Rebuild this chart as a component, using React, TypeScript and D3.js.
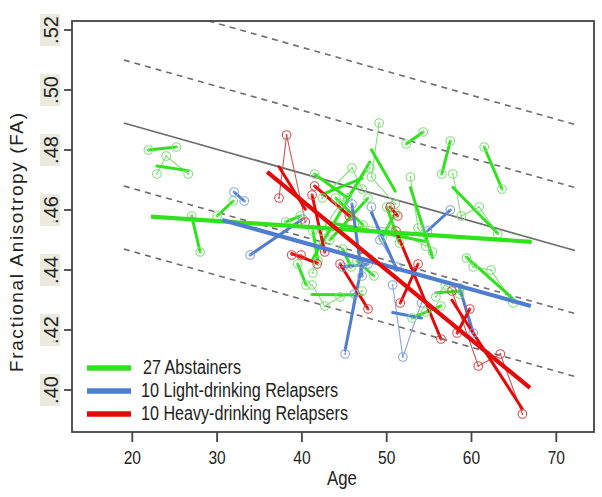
import React from 'react';
import * as d3 from 'd3';

type Obs = [number, number]; // [age, FA]

// individual subjects: repeated scans per subject
const abstainers: Obs[][] = [
  [[21.9, 0.480], [25.2, 0.481]],
  [[22.9, 0.472], [24.0, 0.478], [26.6, 0.472]],
  [[27.0, 0.458], [28.0, 0.446]],
  [[30.0, 0.458], [31.9, 0.463]],
  [[41.3, 0.439], [42.4, 0.453], [44.5, 0.462], [48.0, 0.474]],
  [[49.1, 0.489], [48.2, 0.471], [51.0, 0.462]],
  [[52.3, 0.482], [54.3, 0.486]],
  [[57.5, 0.483], [56.5, 0.472]],
  [[57.8, 0.472], [58.8, 0.458], [60.9, 0.461], [63.1, 0.452]],
  [[61.5, 0.481], [63.6, 0.467]],
  [[59.4, 0.444], [60.2, 0.441], [62.3, 0.440], [64.9, 0.429]],
  [[41.5, 0.472], [45.4, 0.464]],
  [[43.3, 0.450], [47.8, 0.464]],
  [[43.3, 0.455], [50.6, 0.454], [54.6, 0.448]],
  [[41.2, 0.435], [42.7, 0.428], [44.5, 0.431], [47.1, 0.433]],
  [[53.0, 0.424], [54.6, 0.426], [56.4, 0.428]],
  [[55.8, 0.431], [56.9, 0.435], [58.6, 0.432]],
  [[42.4, 0.464], [45.9, 0.474], [47.1, 0.467]],
  [[52.8, 0.471], [53.7, 0.454], [55.4, 0.446]],
  [[50.0, 0.461], [51.5, 0.449]],
  [[38.1, 0.456], [39.8, 0.458]],
  [[41.3, 0.453], [41.9, 0.443]],
  [[44.0, 0.464], [47.2, 0.455]],
  [[46.5, 0.443], [48.5, 0.438]],
  [[39.5, 0.442], [40.5, 0.435]],
  [[49.5, 0.451], [51.0, 0.459]],
  [[44.8, 0.447], [45.8, 0.441]],
];

const lightRelapsers: Obs[][] = [
  [[32.0, 0.466], [33.2, 0.463]],
  [[33.9, 0.445], [40.1, 0.457]],
  [[45.9, 0.462], [47.1, 0.438]],
  [[50.7, 0.435], [51.9, 0.411], [54.1, 0.429]],
  [[48.2, 0.461], [49.2, 0.450], [51.2, 0.441]],
  [[44.8, 0.441], [47.8, 0.442]],
  [[54.8, 0.453], [57.5, 0.460]],
  [[58.6, 0.434], [60.2, 0.419]],
  [[45.1, 0.412], [46.2, 0.432], [47.2, 0.442]],
];

const heavyRelapsers: Obs[][] = [
  [[37.3, 0.464], [38.2, 0.485], [40.4, 0.456]],
  [[41.5, 0.468], [45.6, 0.458]],
  [[41.2, 0.465], [42.7, 0.446]],
  [[38.8, 0.445], [39.9, 0.445], [41.8, 0.442]],
  [[50.4, 0.461], [51.3, 0.458]],
  [[44.5, 0.442], [47.8, 0.427]],
  [[51.1, 0.453], [56.4, 0.417]],
  [[57.7, 0.433], [60.8, 0.408], [63.4, 0.412], [66.0, 0.392]],
  [[59.8, 0.427], [58.3, 0.419]],
  [[51.6, 0.429], [53.7, 0.442]],
];

// group regression lines [start, end]
const abstainerFit: Obs[] = [[22.2, 0.4578], [67.1, 0.4494]];
const lightFit: Obs[] = [[30.6, 0.4567], [67.0, 0.428]];
const heavyFit: Obs[] = [[35.9, 0.4727], [66.9, 0.4007]];

// normative age line and its bands
const normLine: Obs[] = [[19, 0.489], [72.2, 0.4465]];
const bandOffsets = [0.042, 0.021, -0.021, -0.042];

const xTicks = [20, 30, 40, 50, 60, 70];
const yTicks = [0.40, 0.42, 0.44, 0.46, 0.48, 0.50, 0.52];

const legendItems = [
  { label: '27 Abstainers', key: 'abst', width: 98 },
  { label: '10 Light-drinking Relapsers', key: 'light', width: 197 },
  { label: '10 Heavy-drinking Relapsers', key: 'heavy', width: 207 },
];

const colors: Record<string, { thick: string; thin: string }> = {
  abst: { thick: '#2ee31c', thin: '#84df7c' },
  light: { thick: '#4f7ed0', thin: '#88a4dc' },
  heavy: { thick: '#e20a0a', thin: '#d45050' },
};

const W = 602;
const H = 497;
const plot = { left: 72, top: 21, right: 594, bottom: 432 };
const font = "'Liberation Sans', Arial, sans-serif";

function ols(pts: Obs[]): Obs[] {
  const mx = d3.mean(pts, p => p[0]) as number;
  const my = d3.mean(pts, p => p[1]) as number;
  const sxy = d3.sum(pts, p => (p[0] - mx) * (p[1] - my));
  const sxx = d3.sum(pts, p => (p[0] - mx) ** 2);
  const b = sxx === 0 ? 0 : sxy / sxx;
  const [a0, a1] = d3.extent(pts, p => p[0]) as [number, number];
  return [[a0, my + b * (a0 - mx)], [a1, my + b * (a1 - mx)]];
}

export default function App() {
  const x = d3.scaleLinear().domain([20, 70]).range([132.3, 556.3]);
  const y = d3.scaleLinear().domain([0.40, 0.52]).range([390, 30]);
  const line = d3.line<Obs>().x(d => x(d[0])).y(d => y(d[1]));

  const groups: [string, Obs[][]][] = [
    ['abst', abstainers],
    ['light', lightRelapsers],
    ['heavy', heavyRelapsers],
  ];
  const groupFits: [string, Obs[]][] = [
    ['abst', abstainerFit],
    ['light', lightFit],
    ['heavy', heavyFit],
  ];

  return (
    <svg width={W} height={H} style={{ position: 'absolute', left: 0, top: 0, background: '#fff' }}>
      <defs>
        <clipPath id="plotClip">
          <rect x={plot.left} y={plot.top} width={plot.right - plot.left} height={plot.bottom - plot.top} />
        </clipPath>
      </defs>

      {/* normative line and bands */}
      <g clipPath="url(#plotClip)">
        {bandOffsets.map(o => (
          <path key={o} d={line(normLine.map(p => [p[0], p[1] + o] as Obs)) || ''}
            fill="none" stroke="#6e6e6e" strokeWidth={1.6} strokeDasharray="6,5" />
        ))}
        <path d={line(normLine) || ''} fill="none" stroke="#6e6e6e" strokeWidth={1.8} />
      </g>

      {/* raw trajectories */}
      {groups.map(([key, subs]) => (
        <g key={'thin' + key}>
          {subs.map((s, i) => (
            <path key={i} d={line(s) || ''} fill="none" stroke={colors[key].thin} strokeWidth={1.1} />
          ))}
        </g>
      ))}

      {/* individual fitted slopes */}
      {groups.map(([key, subs]) => (
        <g key={'thick' + key}>
          {subs.map((s, i) => (
            <path key={i} d={line(ols(s)) || ''} fill="none" stroke={colors[key].thick}
              strokeWidth={3} strokeLinecap="round" />
          ))}
        </g>
      ))}

      {/* observation markers */}
      {groups.map(([key, subs]) => (
        <g key={'pts' + key}>
          {subs.flat().map((p, i) => (
            <g key={i}>
              <circle cx={x(p[0])} cy={y(p[1])} r={4.3} fill="none" stroke={colors[key].thin} strokeWidth={1.1} />
              <circle cx={x(p[0])} cy={y(p[1])} r={1} fill={colors[key].thin} />
            </g>
          ))}
        </g>
      ))}

      {/* group slopes */}
      {groupFits.map(([key, f]) => (
        <path key={'fit' + key} d={line(f) || ''} fill="none" stroke={colors[key].thick} strokeWidth={4.2} />
      ))}

      {/* frame */}
      <rect x={plot.left} y={plot.top} width={plot.right - plot.left} height={plot.bottom - plot.top}
        fill="none" stroke="#444" strokeWidth={1.8} />

      {/* y axis */}
      {yTicks.map(t => (
        <g key={t} transform={`translate(0,${y(t)})`}>
          <line x1={64} x2={plot.left} stroke="#444" strokeWidth={1.8} />
          <rect x={40} y={-16} width={20} height={32} fill="#ebeadf" />
          <text transform="translate(57.5,0) rotate(-90)" textAnchor="middle" fontFamily={font}
            fontSize={20} fill="#222">{d3.format('.2f')(t).replace(/^0/, '')}</text>
        </g>
      ))}
      <text transform="translate(23,242.5) rotate(-90)" textAnchor="middle" fontFamily={font}
        fontSize={19} fill="#222" textLength={259} lengthAdjust="spacing">Fractional Anisotropy (FA)</text>

      {/* x axis */}
      {xTicks.map(t => (
        <g key={t} transform={`translate(${x(t)},0)`}>
          <line y1={plot.bottom} y2={442} stroke="#444" strokeWidth={1.8} />
          <text transform="translate(0,464) scale(0.82,1)" textAnchor="middle" fontFamily={font}
            fontSize={19} fill="#222">{t}</text>
        </g>
      ))}
      <text transform="translate(342,485) scale(0.84,1)" textAnchor="middle" fontFamily={font}
        fontSize={20} fill="#222">Age</text>

      {/* legend */}
      {legendItems.map((it, i) => (
        <g key={it.key} transform={`translate(0,${368 + i * 23})`}>
          <line x1={87} x2={131} stroke={colors[it.key].thick} strokeWidth={5.5} />
          <text x={i === 0 ? 143 : 141} y={5.5} fontFamily={font} fontSize={20} fill="#222"
            textLength={it.width} lengthAdjust="spacingAndGlyphs">{it.label}</text>
        </g>
      ))}
    </svg>
  );
}
